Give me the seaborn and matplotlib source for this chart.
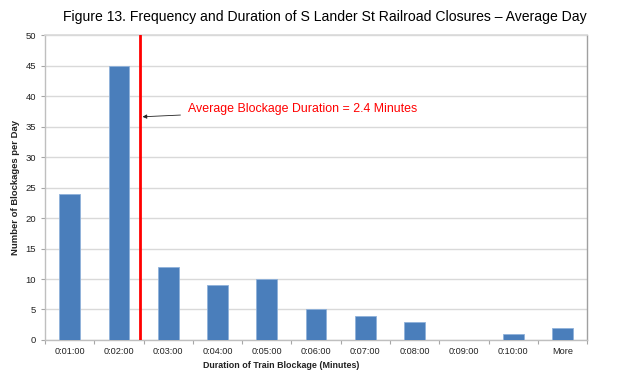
import matplotlib
matplotlib.use("Agg")
import matplotlib.pyplot as plt
import seaborn as sns
import numpy as np
import pandas as pd

categories = ["0:01:00", "0:02:00", "0:03:00", "0:04:00", "0:05:00", "0:06:00",
              "0:07:00", "0:08:00", "0:09:00", "0:10:00", "More"]
counts = [24, 45, 12, 9, 10, 5, 4, 3, 0, 1, 2]
avg_label = "Average Blockage Duration = 2.4 Minutes"
avg_pos = 1.43  # position of 2.4 min on the category axis

sns.set_theme(style="white")
plt.rcParams['font.family'] = ['Liberation Sans', 'DejaVu Sans']

df = pd.DataFrame({"Duration": categories, "Count": counts})

fig = plt.figure(figsize=(6.24, 3.73), dpi=100)
ax = fig.add_axes([0.072, 0.0885, 0.869, 0.8175])

sns.barplot(data=df, x="Duration", y="Count", order=categories, color="#4A7EBB",
            saturation=1, width=0.42, edgecolor="#8FB1DA", linewidth=0.6, ax=ax, zorder=3)

ax.set_xlim(-0.5, len(categories) - 0.5)
ax.set_ylim(0, 50)
ax.set_yticks(np.arange(0, 51, 5))
ax.yaxis.grid(True, color="#D9D9D9", linewidth=1.0, zorder=0)
ax.set_axisbelow(True)

ax.set_xticks(np.arange(-0.5, len(categories), 1), minor=True)
ax.tick_params(axis="x", which="major", length=0, labelsize=6.6, pad=5, labelcolor="#222222")
ax.tick_params(axis="x", which="minor", length=3, color="#A6A6A6", width=0.8, direction="out", bottom=True)
ax.tick_params(axis="y", which="major", length=3, color="#A6A6A6", width=0.8, labelsize=6.8,
               left=True, labelcolor="#222222")

for s in ["left", "bottom"]:
    ax.spines[s].set_color("#BFBFBF")
    ax.spines[s].set_linewidth(1.0)
ax.spines["top"].set_color("#D9D9D9")
ax.spines["top"].set_linewidth(1.2)
ax.spines["right"].set_color("#A0A0A0")
ax.spines["right"].set_linewidth(1.0)

ax.set_xlabel("Duration of Train Blockage (Minutes)", fontsize=6.4, fontweight="bold",
              color="#222222")
ax.xaxis.set_label_coords((281 - 45) / 542, -(361 - 340) / 305, transform=ax.transAxes)
ax.set_ylabel("Number of Blockages per Day", fontsize=6.8, fontweight="bold",
              color="#222222")
ax.yaxis.set_label_coords(-(45 - 20) / 542, 0.5, transform=ax.transAxes)

ax.axvline(avg_pos, color="#FF0000", linewidth=2, zorder=4)
ax.annotate(avg_label, xy=(avg_pos + 0.05, 36.6), xytext=(2.4, 37.8),
            color="#FF0000", fontsize=8.9, va="center", ha="left",
            arrowprops=dict(arrowstyle="-|>", color="#222222", lw=0.6,
                            mutation_scale=6, shrinkA=3, shrinkB=0))

fig.text(0.521, 0.955, "Figure 13. Frequency and Duration of S Lander St Railroad Closures \u2013 Average Day",
         ha="center", va="center", fontsize=10.1, color="black")

fig.savefig("out.png", dpi=100)
